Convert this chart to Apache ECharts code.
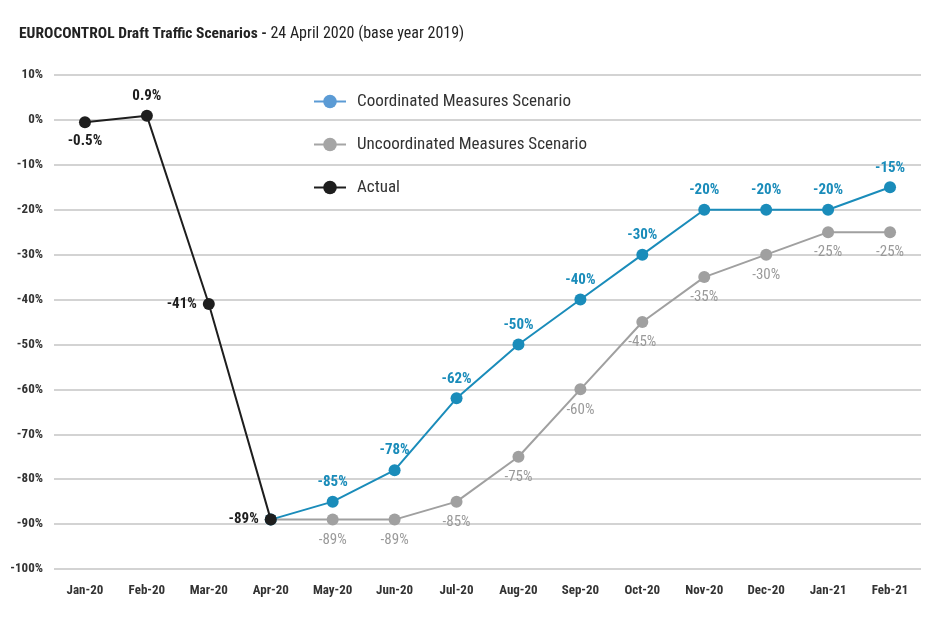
<!DOCTYPE html>
<html>
<head>
<meta charset="utf-8">
<script src="https://cdn.jsdelivr.net/npm/echarts@6/dist/echarts.min.js"></script>
<style>html,body{margin:0;padding:0;background:#fff}#c{width:950px;height:634px}</style>
</head>
<body>
<div id="c"></div>
<script>
const months = ['Jan-20','Feb-20','Mar-20','Apr-20','May-20','Jun-20','Jul-20','Aug-20','Sep-20','Oct-20','Nov-20','Dec-20','Jan-21','Feb-21'];
const coordinated = [null, null, null, -89, -85, -78, -62, -50, -40, -30, -20, -20, -20, -15];
const uncoordinated = [null, null, null, -89, -89, -89, -85, -75, -60, -45, -35, -30, -25, -25];
const actual = [-0.5, 0.9, -41, -89, null, null, null, null, null, null, null, null, null, null];
const yTicks = [10, 0, -10, -20, -30, -40, -50, -60, -70, -80, -90, -100];

const FONT = "'Roboto Condensed','Liberation Sans Narrow',Roboto,sans-serif";
const actualLabelPos = ['bottom', 'top', 'left', 'left'];
const showFromApr = i => i >= 4;

const chart = echarts.init(document.getElementById('c'), null, {renderer: 'canvas'});
chart.setOption({
  animation: false,
  backgroundColor: '#fff',
  textStyle: {fontFamily: FONT},
  title: {
    left: 14, top: 21,
    text: '{b|EUROCONTROL Draft Traffic Scenarios - }{n|24 April 2020 (base year 2019)}',
    textStyle: {
      rich: {
        b: {fontFamily: FONT, fontWeight: 'bold', fontSize: 15.5, color: '#222'},
        n: {fontFamily: FONT, fontWeight: 'normal', fontSize: 16, color: '#222'}
      }
    }
  },
  legend: {
    orient: 'vertical',
    left: 308, top: 88,
    itemGap: 26,
    itemWidth: 32, itemHeight: 17,
    textStyle: {fontFamily: FONT, fontSize: 17, color: '#333', padding: [0, 0, 0, 6]},
    data: [
      {name: 'Coordinated Measures Scenario', itemStyle: {color: '#5b9bd5'}, lineStyle: {color: '#5b9bd5'}},
      {name: 'Uncoordinated Measures Scenario', itemStyle: {color: '#a5a5a5'}, lineStyle: {color: '#a5a5a5'}},
      {name: 'Actual', itemStyle: {color: '#1e1e1e'}, lineStyle: {color: '#1e1e1e'}}
    ]
  },
  grid: {left: 54, right: 29, top: 75, bottom: 65},
  xAxis: {
    type: 'category',
    data: months,
    boundaryGap: true,
    axisLine: {show: false},
    axisTick: {show: false},
    axisLabel: {fontFamily: FONT, fontWeight: 'bold', fontSize: 13, color: '#333', margin: 15}
  },
  yAxis: {
    type: 'value',
    min: -100, max: 10, interval: 10,
    axisLine: {show: false},
    axisTick: {show: false},
    splitLine: {lineStyle: {color: '#c4c4c4', width: 1.5}},
    axisLabel: {
      fontFamily: FONT, fontWeight: 'bold', fontSize: 13, color: '#333', margin: 11,
      formatter: v => yTicks.includes(v) ? v + '%' : ''
    }
  },
  series: [
    {
      name: 'Coordinated Measures Scenario',
      type: 'line',
      data: coordinated.map((v, i) => ({value: v, label: {show: showFromApr(i)}})),
      color: '#1a8cba',
      symbol: 'circle', symbolSize: 12,
      lineStyle: {width: 2, color: '#1a8cba'},
      itemStyle: {color: '#1a8cba'},
      label: {
        position: 'top', distance: 6,
        fontFamily: FONT, fontWeight: 'bold', fontSize: 15, color: '#1a8cba',
        formatter: p => p.value + '%'
      },
      z: 3
    },
    {
      name: 'Uncoordinated Measures Scenario',
      type: 'line',
      data: uncoordinated.map((v, i) => ({value: v, label: {show: showFromApr(i)}})),
      color: '#a0a0a0',
      symbol: 'circle', symbolSize: 12,
      lineStyle: {width: 2, color: '#a0a0a0'},
      itemStyle: {color: '#a0a0a0'},
      label: {
        position: 'bottom', distance: 7,
        fontFamily: FONT, fontWeight: 'normal', fontSize: 15, color: '#9a9a9a',
        formatter: p => p.value + '%'
      },
      z: 2
    },
    {
      name: 'Actual',
      type: 'line',
      data: actual.map((v, i) => ({value: v, label: {position: actualLabelPos[i] || 'top'}})),
      color: '#1e1e1e',
      symbol: 'circle', symbolSize: 12,
      lineStyle: {width: 2, color: '#1e1e1e'},
      itemStyle: {color: '#1e1e1e'},
      label: {
        show: true, distance: 6,
        fontFamily: FONT, fontWeight: 'bold', fontSize: 15, color: '#1e1e1e',
        formatter: p => p.value + '%'
      },
      z: 4
    }
  ]
});
</script>
</body>
</html>
